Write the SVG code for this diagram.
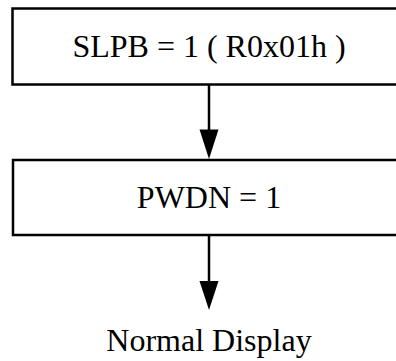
<svg xmlns="http://www.w3.org/2000/svg" width="396" height="361" viewBox="0 0 396 361">
  <style>
    .box { fill: #fff; stroke: #000; stroke-width: 2.5; }
    .lbl { font-family: "Liberation Serif", "Times New Roman", serif; font-size: 32px; fill: #000; text-anchor: middle; }
    .wire { stroke: #000; stroke-width: 2.5; fill: none; }
    .head { fill: #000; stroke: none; }
  </style>
  <rect width="396" height="361" fill="#fff"/>

  <!-- step 1: sleep bit set -->
  <g id="slpb">
    <rect class="box" x="12.5" y="8.5" width="393" height="76"/>
    <text class="lbl" x="209" y="57">SLPB = 1 ( R0x01h )</text>
  </g>

  <!-- step 2: power-down -->
  <g id="pwdn">
    <rect class="box" x="13" y="160" width="392" height="75"/>
    <text class="lbl" x="209" y="208">PWDN = 1</text>
  </g>

  <!-- result -->
  <g id="normal">
    <text class="lbl" x="209" y="351">Normal Display</text>
  </g>

  <g id="connectors">
    <line class="wire" x1="209" y1="85" x2="209" y2="132"/>
    <polygon class="head" points="199.5,129.5 218.5,129.5 209,159"/>
    <line class="wire" x1="209" y1="236" x2="209" y2="283"/>
    <polygon class="head" points="199.5,281 218.5,281 209,310"/>
  </g>
</svg>
